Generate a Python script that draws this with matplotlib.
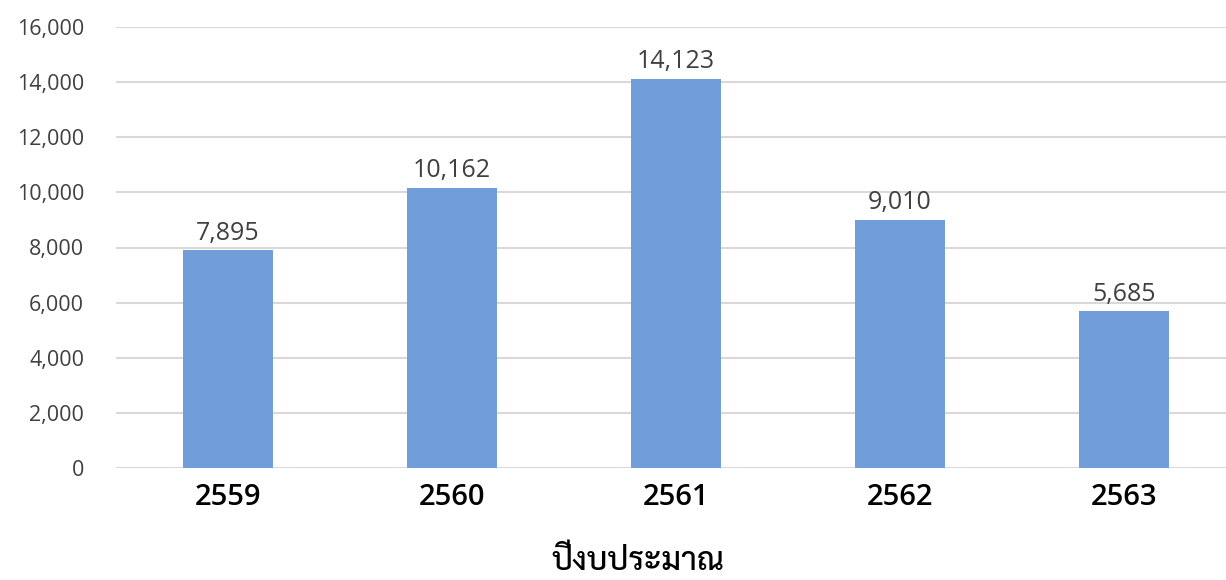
import matplotlib
matplotlib.use("Agg")
import matplotlib.pyplot as plt
from matplotlib.ticker import FuncFormatter, MultipleLocator

# Budget years and counts per year
years = ["2559", "2560", "2561", "2562", "2563"]
counts = [7895, 10162, 14123, 9010, 5685]
x_title = "ปีงบประมาณ"

bar_color = "#719DD8"
grid_color = "#D9D9D9"
text_gray = "#404040"
num_font = ["Open Sans", "DejaVu Sans"]
thai_font = ["Sarabun", "DejaVu Sans"]

fig = plt.figure(figsize=(12.26, 5.8), dpi=100)
ax = fig.add_axes([116 / 1226, 1 - 468 / 580, 1120 / 1226, 441 / 580])

pos = range(len(years))
ax.bar(pos, counts, width=0.4, color=bar_color, zorder=3)

ax.set_xlim(-0.5, len(years) - 0.5)
ax.set_ylim(0, 16000)
ax.yaxis.set_major_locator(MultipleLocator(2000))
ax.yaxis.set_major_formatter(FuncFormatter(lambda v, _: f"{int(v):,}"))
ax.grid(axis="y", color=grid_color, linewidth=1.5, zorder=0)
for s in ax.spines.values():
    s.set_visible(False)
ax.tick_params(axis="both", length=0)
ax.tick_params(axis="y", pad=23)
ax.tick_params(axis="x", pad=11)

for lbl in ax.get_yticklabels():
    lbl.set_fontfamily(num_font)
    lbl.set_fontsize(15.5)
    lbl.set_color(text_gray)

ax.set_xticks(list(pos))
ax.set_xticklabels(years, fontfamily=num_font, fontsize=21,
                   fontweight="semibold", color="black")

for p, v in zip(pos, counts):
    ax.annotate(f"{v:,}", (p, v), xytext=(0, 7.5), textcoords="offset points",
                ha="center", va="baseline", fontfamily=num_font,
                fontsize=18, color=text_gray)

fig.text(638 / 1226, 1 - 562 / 580, x_title, ha="center", va="center",
         fontfamily=thai_font, fontsize=23, fontweight="medium", color="black")

fig.savefig("out.png", dpi=100, facecolor="white")
